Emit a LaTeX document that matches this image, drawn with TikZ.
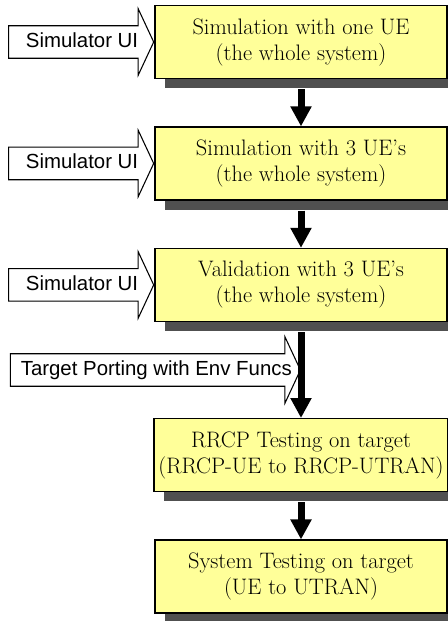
\documentclass[tikz,border=0pt]{standalone}
\usepackage{fontspec}
\newfontfamily\uifont{Liberation Sans}
\usetikzlibrary{positioning,shadows,shapes.arrows,arrows.meta,calc}
\definecolor{stagefill}{HTML}{FFFF99}
\definecolor{shadowgray}{HTML}{505050}
\tikzset{
  stage/.style   = {shape=rectangle, draw, line width=1.1pt, align=center,
                    fill=stagefill, minimum width=219pt, minimum height=54.5pt,
                    font=\fontsize{16.8}{19.5}\selectfont,
                    drop shadow={shadow xshift=7.5pt, shadow yshift=-7.5pt,
                                 fill=shadowgray, opacity=1}},
  uiarrow/.style = {single arrow, draw, line width=0.8pt, fill=white,
                    font=\uifont\fontsize{15.3}{18}\selectfont,
                    text height=11pt, text depth=3pt, inner ysep=4.8pt,
                    single arrow head extend=12.75pt, single arrow tip angle=130,
                    minimum height=108.75pt},
  flow/.style    = {line width=5.25pt, -{Triangle[width=15pt,length=15pt]},
                    shorten <=7.5pt}
}
% centre the label over the whole arrow, head included
\newcommand{\uitext}[1]{\hspace*{7pt}\makebox[0pt]{#1}}
\begin{document}
\begin{tikzpicture}[node distance=35.5pt]
\useasboundingbox (0,0) rectangle (336pt,-465.75pt);
\node [stage] (sim1) at (225.75pt,-31.5pt) {Simulation with one UE\\(the whole system)};
\node [stage, below=of sim1] (sim3) {Simulation with 3 UE's\\(the whole system)};
\node [stage, below=of sim3] (val3) {Validation with 3 UE's\\(the whole system)};
\node [stage, below=72pt of val3] (rrcp) {RRCP Testing on target\\(RRCP-UE to RRCP-UTRAN)};
\node [stage, below=of rrcp] (sys) {System Testing on target\\(UE to UTRAN)};
% inputs from the left
\node [uiarrow, anchor=tip] (ui1) at (sim1.west) {\uitext{Simulator UI}};
\node [uiarrow, anchor=tip] (ui2) at (sim3.west) {\uitext{Simulator UI}};
\node [uiarrow, anchor=tip] (ui3) at (val3.west) {\uitext{Simulator UI}};
\coordinate (port) at ($(val3.south)!0.5!(rrcp.north)$);
\node [uiarrow, anchor=tip, minimum height=217.5pt] (tp) at (port) {\uitext{Target Porting with Env Funcs}};
% flow between stages
\draw [flow] (sim1) -- (sim3);
\draw [flow] (sim3) -- (val3);
\draw [flow] (val3) -- (rrcp);
\draw [flow] (rrcp) -- (sys);
\end{tikzpicture}
\end{document}
